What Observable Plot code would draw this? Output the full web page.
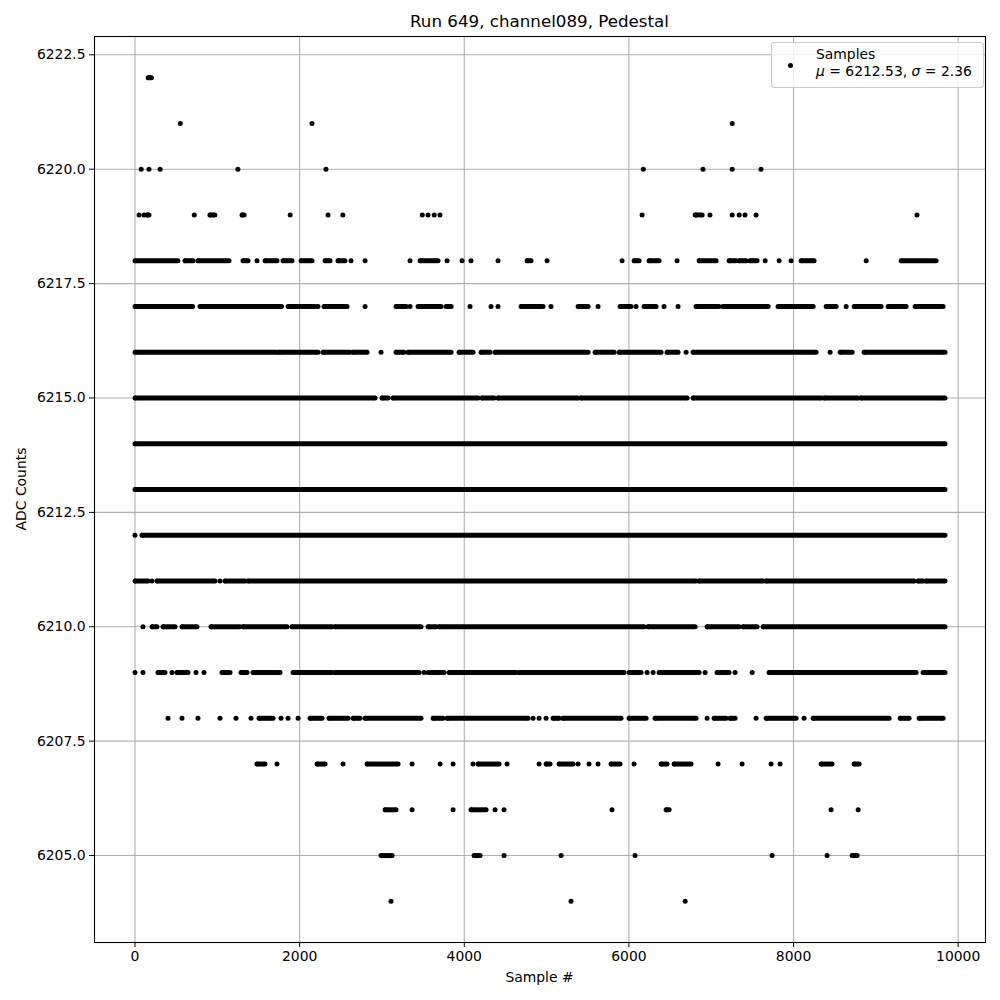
<!DOCTYPE html>
<html>
<head>
<meta charset="utf-8">
<script src="https://cdn.jsdelivr.net/npm/d3@7"></script>
<script src="https://cdn.jsdelivr.net/npm/@observablehq/plot@0.6"></script>
<style>
  html, body { margin: 0; padding: 0; background: white; }
  #chart { width: 1000px; height: 1000px; }
</style>
</head>
<body>
<div id="chart"></div>
<script>
// ---- Data: runs of samples [first, last] per ADC level ----
const r6222 = [[160,200]];
const r6221 = [[550,550],[2150,2150],[7255,7255]];
const r6220 = [[75,75],[170,170],[305,305],[1250,1250],[2320,2320],[6175,6175],[6900,6900],[7255,7255],[7605,7605]];
const r6219 = [[50,50],[110,110],[145,170],[720,720],[910,970],[1300,1325],[1885,1885],[2345,2345],[2525,2525],[3490,3490],[3560,3560],[3635,3635],[3705,3705],[6160,6160],[6805,6890],[6985,6985],[7255,7255],[7340,7340],[7410,7410],[7545,7545],[9500,9500]];
const r6218 = [[0,520],[607,705],[765,1118],[1142,1142],[1312,1373],[1482,1482],[1580,1725],[1798,1907],[2017,2150],[2309,2369],[2466,2551],[2624,2624],[2795,2795],[3341,3341],[3463,3681],[3791,3791],[3973,3973],[4082,4082],[4410,4410],[4763,4811],[5006,5006],[5917,5917],[6063,6124],[6245,6367],[6585,6585],[6853,7059],[7217,7302],[7339,7424],[7472,7557],[7655,7655],[7825,7825],[7970,7970],[8092,8250],[8882,8882],[9307,9732]];
const r6217 = [[0,700],[790,1780],[1860,2190],[2223,2223],[2296,2576],[2795,2795],[3171,3293],[3341,3341],[3439,3718],[3779,3840],[4070,4070],[4325,4325],[4410,4410],[4690,4957],[5054,5054],[5383,5504],[5625,5625],[5893,6026],[6087,6087],[6184,6330],[6427,6427],[6597,6597],[6816,7096],[7144,7691],[7812,8238],[8396,8517],[8639,8639],[8736,9064],[9149,9368],[9477,9817]];
const r6216 = [[0,1725],[1750,2223],[2284,2612],[2649,2819],[2989,2989],[3171,3268],[3317,3840],[3937,4107],[4204,4313],[4374,5504],[5589,5820],[5881,6391],[6464,6597],[6695,6695],[6780,8274],[8444,8444],[8566,8712],[8857,9840]];
const r6215 = [[0,2916],[3001,3074],[3135,4168],[4216,4362],[4410,5383],[5419,6707],[6780,8335],[8371,8785],[8821,9840]];
const r6214 = [[0,9840]];
const r6213 = [[0,9840]];
const r6212 = [[0,0],[85,9840]];
const r6211 = [[0,158],[207,207],[267,972],[1033,1033],[1094,1337],[1373,6816],[6853,7630],[7667,9465],[9513,9574],[9610,9840]];
const r6210 = [[97,97],[207,267],[340,486],[571,753],[923,1276],[1312,1847],[1907,2393],[2430,3475],[3560,3657],[3694,6184],[6233,6804],[6950,7339],[7387,7557],[7630,9840]];
const r6209 = [[0,0],[97,97],[279,364],[450,450],[510,644],[741,741],[838,838],[1057,1154],[1288,1361],[1434,1762],[1920,2393],[2430,3451],[3511,3511],[3560,3754],[3815,4629],[4666,5941],[6002,6148],[6221,6221],[6294,6294],[6367,6853],[6926,6926],[7071,7217],[7290,7290],[7497,7497],[7703,9489],[9574,9840]];
const r6208 = [[401,401],[571,571],[765,765],[1033,1033],[1227,1227],[1409,1409],[1507,1677],[1774,1774],[1859,1859],[1981,1981],[2126,2272],[2357,2588],[2649,2734],[2795,3475],[3621,3742],[3791,4775],[4836,4836],[4909,4909],[4994,4994],[5079,5152],[5200,5905],[6002,6209],[6318,6816],[6950,6950],[7035,7181],[7229,7290],[7545,7545],[7667,8031],[8128,8128],[8238,9161],[9295,9404],[9526,9817]];
const r6207 = [[1482,1580],[1725,1725],[2211,2309],[2527,2527],[2819,3196],[3366,3366],[3706,3706],[3864,3864],[4107,4107],[4168,4423],[4520,4520],[4909,4909],[4994,5042],[5152,5322],[5383,5383],[5516,5516],[5625,5625],[5783,5893],[6063,6063],[6391,6464],[6549,6755],[7083,7083],[7375,7375],[7727,7727],[7837,7837],[8335,8468],[8736,8797]];
const r6206 = [[3038,3171],[3366,3366],[3864,3864],[4082,4265],[4374,4374],[4483,4483],[5795,5795],[6452,6488],[8456,8456],[8785,8785]];
const r6205 = [[2989,3123],[4119,4192],[4483,4483],[5176,5176],[6075,6075],[7740,7740],[8408,8408],[8712,8772]];
const r6204 = [[3110,3110],[5297,5297],[6683,6683]];

const levels = [6204,6205,6206,6207,6208,6209,6210,6211,6212,6213,6214,6215,6216,6217,6218,6219,6220,6221,6222];
const levelRuns = [r6204,r6205,r6206,r6207,r6208,r6209,r6210,r6211,r6212,r6213,r6214,r6215,r6216,r6217,r6218,r6219,r6220,r6221,r6222];

const xTicks = [0, 2000, 4000, 6000, 8000, 10000];
const yTicks = [6205, 6207.5, 6210, 6212.5, 6215, 6217.5, 6220, 6222.5];

const title = "Run 649, channel089, Pedestal";
const xLabel = "Sample #";
const yLabel = "ADC Counts";
const legendName = "Samples";
const mu = "6212.53";
const sigma = "2.36";

// ---- Build table ----
const runs = levels.flatMap((lv, i) => levelRuns[i].map(([a, b]) => ({level: lv, a, b})));
const ends = runs.flatMap(d => d.a === d.b ? [{x: d.a, y: d.level}] : [{x: d.a, y: d.level}, {x: d.b, y: d.level}]);

const FONT = "DejaVu Sans, sans-serif";
const grid = "#b0b0b0";

const chart = Plot.plot({
  width: 1000,
  height: 1000,
  marginLeft: 94,
  marginRight: 15,
  marginTop: 36,
  marginBottom: 58,
  style: {fontFamily: FONT, fontSize: "13.9px", color: "black", background: "white", overflow: "visible"},
  x: {domain: [-492, 10332], ticks: xTicks, tickFormat: d3.format("d"), tickSize: 5, tickPadding: 4, label: null},
  y: {domain: [6203.1, 6222.9], ticks: yTicks, tickFormat: d3.format(".1f"), tickSize: 5, tickPadding: 4, label: null},
  marks: [
    Plot.ruleX(xTicks, {stroke: grid, strokeWidth: 1.1}),
    Plot.ruleY(yTicks, {stroke: grid, strokeWidth: 1.1}),
    Plot.ruleY(runs, {y: "level", x1: "a", x2: "b", stroke: "black", strokeWidth: 5}),
    Plot.dot(ends, {x: "x", y: "y", r: 2.5, fill: "black", stroke: "none"}),
    Plot.frame({stroke: "black", strokeWidth: 1.1})
  ]
});

document.getElementById("chart").appendChild(chart);

const svg = d3.select(chart);
const addText = (x, y, txt, size, anchor) => svg.append("text").attr("x", x).attr("y", y)
  .attr("text-anchor", anchor).attr("font-family", FONT).attr("font-size", size).attr("fill", "black").text(txt);
addText(539.5, 27, title, "16.7px", "middle");
addText(539.5, 982, xLabel, "13.9px", "middle");
svg.append("text").attr("transform", "translate(26,489) rotate(-90)").attr("text-anchor", "middle")
  .attr("font-family", FONT).attr("font-size", "13.9px").attr("fill", "black").text(yLabel);

// legend
const lg = svg.append("g").attr("text-anchor", "start");
lg.append("rect").attr("x", 771.5).attr("y", 42.5).attr("width", 212).attr("height", 45).attr("rx", 3)
  .attr("fill", "white").attr("fill-opacity", 0.8).attr("stroke", "#cccccc").attr("stroke-width", 1.1);
lg.append("circle").attr("cx", 790.5).attr("cy", 65.5).attr("r", 2.5).attr("fill", "black");
lg.append("text").attr("x", 816).attr("y", 59).attr("text-anchor", "start").attr("font-family", FONT)
  .attr("font-size", "13.9px").attr("fill", "black").text(legendName);
const t2 = lg.append("text").attr("x", 816).attr("y", 76).attr("text-anchor", "start").attr("font-family", FONT)
  .attr("font-size", "13.9px").attr("fill", "black");
t2.append("tspan").attr("font-style", "italic").text("μ");
t2.append("tspan").text(" = " + mu + ", ");
t2.append("tspan").attr("font-style", "italic").text("σ");
t2.append("tspan").text(" = " + sigma);
</script>
</body>
</html>
